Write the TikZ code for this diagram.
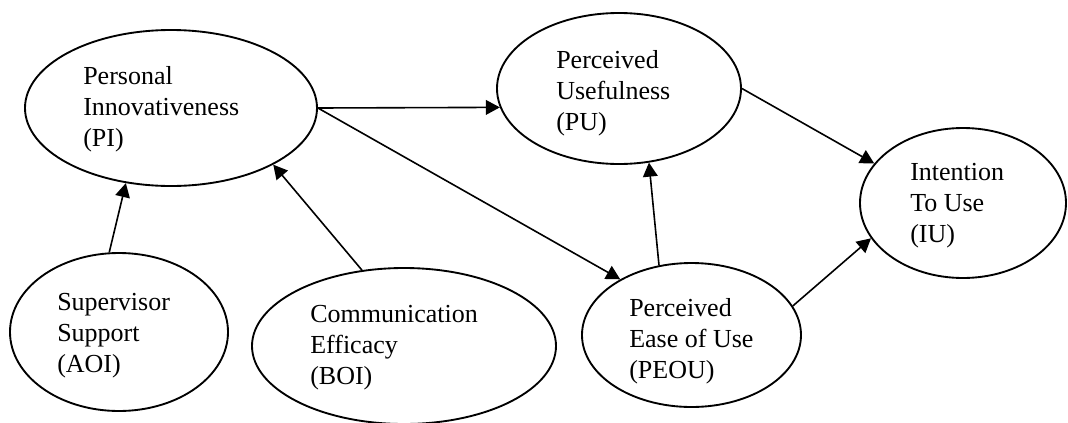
\documentclass[tikz,border=0pt]{standalone}
\usepackage{fontspec}
\setmainfont{Liberation Serif}
\usetikzlibrary{shapes.geometric,arrows.meta}
\tikzset{
  ell/.style={draw, ellipse, line width=1.4pt, inner sep=0pt},
  lbl/.style={anchor=north west, inner sep=0pt, align=left, font=\fontsize{19.5pt}{23.3pt}\selectfont},
  arr/.style={-{Triangle[length=10.5pt,width=11pt]}, line width=1.2pt},
}
\begin{document}
\begin{tikzpicture}[x=0.75pt,y=-0.75pt]
\useasboundingbox[fill=white] (0,0) rectangle (1068,422);
% ellipses
\node[ell, minimum width={292*0.75pt}, minimum height={156*0.75pt}] (PI) at (171,108) {};
\node[ell, minimum width={244*0.75pt}, minimum height={151*0.75pt}] (PU) at (619,88.5) {};
\node[ell, minimum width={206*0.75pt}, minimum height={150*0.75pt}] (IU) at (963,203) {};
\node[ell, minimum width={219*0.75pt}, minimum height={144*0.75pt}] (PEOU) at (691.5,335) {};
\node[ell, minimum width={218*0.75pt}, minimum height={158*0.75pt}] (SUP) at (119,332) {};
\node[ell, minimum width={304*0.75pt}, minimum height={156*0.75pt}] (COM) at (404,346) {};
% labels
\node[lbl] (PIt) at (83,66) {Personal\\Innovativeness\\(PI)};
\node[lbl] (PUt) at (556,50) {Perceived\\Usefulness\\(PU)};
\node[lbl] (IUt) at (910,163) {Intention\\To Use\\(IU)};
\node[lbl] (PEOUt) at (629,298) {Perceived\\Ease of Use\\(PEOU)};
\node[lbl] (SUPt) at (57,293) {Supervisor\\Support\\(AOI)};
\node[lbl] (COMt) at (310,305) {Communication\\Efficacy\\(BOI)};
% arrows
\draw[arr] (PI.east) -- (PU.189);
\draw[arr] (PI.east) -- (PEOU.142);
\draw[arr] (PU.east) -- (IU.156);
\draw[arr] (PEOU.115) -- (PU.-68);
\draw[arr] (PEOU.16) -- (IU.201);
\draw[arr] (SUP.97) -- (PI.239);
\draw[arr] (COM.119) -- (PI.-29);
\end{tikzpicture}
\end{document}
